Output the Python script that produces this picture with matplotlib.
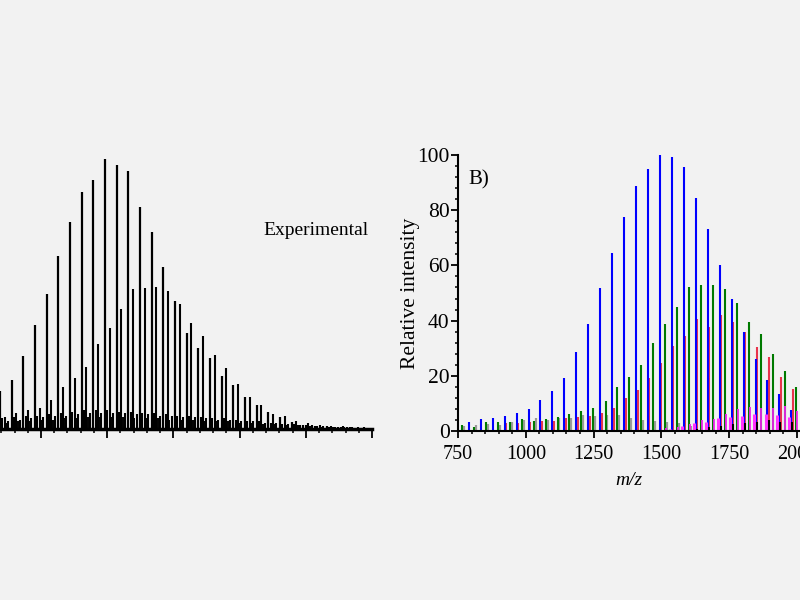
import numpy as np
import matplotlib.pyplot as plt
from matplotlib.ticker import MultipleLocator

plt.rcParams['font.family'] = ['Liberation Serif', 'DejaVu Serif']

# --- Experimental spectrum (left) ---
exp_main_mz = [845, 889, 933, 977, 1021, 1065, 1109, 1153, 1197, 1242, 1286, 1330, 1374, 1418, 1462, 1506,
               1550, 1594, 1638, 1682, 1726, 1770, 1814, 1858, 1903, 1947, 1991, 2035, 2079, 2123, 2167, 2211]
exp_main_h = [14.0, 18.0, 26.8, 37.7, 49.1, 62.7, 75.0, 86.1, 90.5, 98.0, 95.7, 93.5, 80.5, 71.4, 58.8, 46.6,
              34.9, 29.7, 26.0, 19.5, 16.1, 11.9, 8.9, 6.5, 4.7, 2.8, 1.6, 1.2, 1.2, 1.0, 0.8, 0.7]
exp_sec_mz = [863, 907, 951, 995, 1039, 1083, 1127, 1171, 1215, 1259, 1303, 1347, 1391, 1436, 1480, 1524,
              1568, 1612, 1656, 1700, 1744, 1788, 1832, 1876, 1920, 1964, 2008, 2052, 2096, 2140]
exp_sec_h = [4.6, 5.9, 7.1, 7.9, 10.7, 15.5, 18.8, 22.8, 30.9, 36.9, 43.6, 50.8, 51.2, 51.6, 50.0, 45.4,
             38.7, 33.9, 27.0, 22.1, 16.4, 11.9, 8.7, 5.5, 4.8, 3.0, 2.2, 1.8, 1.2, 1.2]
exp_s1_mz = [854, 898, 942, 986, 1030, 1074, 1118, 1162, 1206, 1251, 1295, 1339, 1383, 1427, 1471, 1515,
             1559, 1603, 1647, 1691, 1735, 1779, 1823, 1867, 1912, 1956, 2000, 2044, 2088, 2132, 2176, 2220]
exp_s1_h = [4.0, 4.5, 5.0, 5.0, 5.5, 6.0, 6.5, 7.0, 7.0, 7.0, 6.5, 6.5, 6.0, 6.0, 5.5, 5.0,
            5.0, 4.5, 4.0, 4.0, 3.5, 3.0, 3.0, 2.5, 2.0, 2.0, 1.5, 1.2, 1.0, 1.0, 0.8, 0.8]
exp_s2_mz = [876, 920, 964, 1008, 1052, 1096, 1140, 1184, 1228, 1273, 1317, 1361, 1405, 1449, 1493, 1537,
             1581, 1625, 1669, 1713, 1757, 1801, 1845, 1889, 1934, 1978, 2022, 2066, 2110, 2154, 2198, 2242]
exp_s2_h = [3.0, 3.5, 4.0, 4.5, 5.0, 5.0, 5.5, 6.0, 6.0, 6.0, 6.0, 5.5, 5.5, 5.0, 5.0, 4.5,
            4.5, 4.0, 3.5, 3.5, 3.0, 3.0, 2.5, 2.5, 2.0, 1.8, 1.5, 1.2, 1.0, 0.8, 0.8, 0.6]
exp_s3_mz = [868, 912, 956, 1000, 1044, 1088, 1132, 1176, 1220, 1265, 1309, 1353, 1397, 1441, 1485, 1529,
             1573, 1617, 1661, 1705, 1749, 1793, 1837, 1881, 1926, 1970, 2014, 2058, 2102, 2146, 2190, 2234]
exp_s3_h = [2.5, 3.0, 3.0, 3.5, 3.5, 4.0, 4.0, 4.5, 4.5, 4.5, 4.5, 4.0, 4.0, 4.0, 3.5, 3.5,
            3.5, 3.0, 3.0, 3.0, 2.5, 2.5, 2.0, 2.0, 1.8, 1.5, 1.2, 1.0, 0.8, 0.8, 0.6, 0.5]

# --- Simulated spectrum B) (right) ---
blue_mz = [790, 834, 878, 922, 966, 1010, 1054, 1098, 1142, 1186, 1230, 1275, 1319, 1363, 1407, 1451,
           1495, 1539, 1583, 1627, 1671, 1715, 1759, 1803, 1847, 1891, 1935, 1979]
blue_h = [3.4, 4.2, 4.8, 5.6, 6.5, 8.0, 11.2, 14.5, 19.1, 28.5, 38.7, 51.7, 64.4, 77.7, 88.6, 94.9,
          100, 99.3, 95.6, 84.3, 73.2, 60.1, 47.8, 35.7, 26.1, 18.3, 13.5, 7.7]
red_mz = [927, 971, 1015, 1059, 1103, 1147, 1191, 1235, 1280, 1324, 1368, 1412, 1456, 1500, 1544, 1588,
          1632, 1676, 1720, 1764, 1808, 1852, 1896, 1940, 1984]
red_h = [2.8, 3.0, 3.4, 3.7, 3.6, 4.6, 5.2, 5.5, 6.6, 8.5, 12.1, 14.9, 19.1, 24.5, 30.8, 34.5,
         40.5, 37.8, 42.0, 39.6, 36.0, 30.4, 26.7, 19.4, 15.1]
green_mz = [765, 809, 853, 897, 941, 985, 1029, 1073, 1117, 1161, 1205, 1249, 1294, 1338, 1382, 1426,
            1470, 1514, 1558, 1602, 1646, 1690, 1734, 1778, 1822, 1866, 1910, 1954, 1998]
green_h = [2.1, 1.5, 3.1, 3.1, 3.4, 4.2, 3.7, 4.4, 5.2, 6.2, 7.3, 8.3, 11.0, 16.1, 19.4, 24.0,
           31.8, 38.8, 44.9, 52.0, 53.0, 52.8, 51.4, 46.5, 39.6, 35.0, 27.8, 21.7, 16.1]
gray_mz = [772, 816, 860, 904, 948, 992, 1036, 1080, 1124, 1168, 1212, 1256, 1301, 1345, 1389, 1433,
           1477, 1521, 1565, 1609]
gray_h = [1.9, 2.0, 2.5, 2.0, 3.1, 3.9, 4.6, 4.0, 4.7, 4.8, 5.8, 5.6, 5.7, 5.8, 4.6, 4.0,
          3.7, 3.3, 2.8, 1.8]
mag1_mz = [1532, 1576, 1620, 1664, 1708, 1752, 1796, 1840, 1884, 1928, 1972]
mag1_h = [0.8, 1.8, 2.8, 3.4, 4.7, 5.0, 5.5, 6.2, 6.0, 5.8, 5.2]
mag2_mz = [1517, 1561, 1605, 1649, 1693, 1737, 1781, 1825, 1869, 1913, 1957, 2001]
mag2_h = [1.0, 1.5, 2.4, 3.9, 4.4, 6.2, 7.8, 8.8, 8.5, 8.5, 9.2, 7.3]
black_mz = [1631, 1675, 1719, 1763, 1807, 1851, 1895, 1939, 1983]
black_h = [0.8, 1.3, 1.8, 2.5, 2.8, 3.1, 4.0, 3.4, 3.4]

bg = '#f2f2f2'
fig = plt.figure(figsize=(8, 6), dpi=100, facecolor=bg)

# left panel, extends past the left edge of the figure
ax1 = fig.add_axes([-0.0315, 0.2842, 0.4965, 0.46])
ax1.set_facecolor('none')
ax1.vlines(exp_s3_mz, 0, exp_s3_h, color='black', lw=1.4)
ax1.vlines(exp_s2_mz, 0, exp_s2_h, color='black', lw=1.5)
ax1.vlines(exp_s1_mz, 0, exp_s1_h, color='black', lw=1.5)
ax1.vlines(exp_sec_mz, 0, exp_sec_h, color='black', lw=1.5)
ax1.vlines(exp_main_mz, 0, exp_main_h, color='black', lw=1.6)
ax1.set_xlim(750, 2250)
ax1.set_ylim(0, 100)
for s in ['left', 'top', 'right']:
    ax1.spines[s].set_visible(False)
ax1.spines['bottom'].set_linewidth(2.5)
ax1.xaxis.set_major_locator(MultipleLocator(250))
ax1.xaxis.set_minor_locator(MultipleLocator(50))
ax1.tick_params(axis='x', which='major', direction='out', length=6.5, width=1.3, labelbottom=False)
ax1.tick_params(axis='x', which='minor', direction='out', length=3, width=1.1)
ax1.set_yticks([])
ax1.text(2238, 72, 'Experimental', ha='right', va='center', fontsize=14)

# right panel, extends to the right edge of the figure
ax2 = fig.add_axes([0.5725, 0.2817, 0.4275, 0.46])
ax2.set_facecolor('none')
ax2.vlines(gray_mz, 0, gray_h, color='#9a9a9a', lw=1.6)
ax2.vlines(green_mz, 0, green_h, color='#007a00', lw=1.5)
ax2.vlines(red_mz, 0, red_h, color='#e8344c', lw=1.5)
ax2.vlines(blue_mz, 0, blue_h, color='#0000ff', lw=1.5)
ax2.vlines(mag1_mz, 0, mag1_h, color='#ff33ff', lw=2.2)
ax2.vlines(mag2_mz, 0, mag2_h, color='#ee22ee', lw=1.3)
ax2.vlines(black_mz, 0, black_h, color='black', lw=1.5)
ax2.set_xlim(750, 2011)
ax2.set_ylim(0, 100)
ax2.spines['top'].set_visible(False)
ax2.spines['right'].set_visible(False)
ax2.spines['left'].set_linewidth(1.5)
ax2.spines['bottom'].set_linewidth(1.5)
ax2.xaxis.set_major_locator(MultipleLocator(250))
ax2.xaxis.set_minor_locator(MultipleLocator(50))
ax2.yaxis.set_major_locator(MultipleLocator(20))
ax2.yaxis.set_minor_locator(MultipleLocator(4))
ax2.tick_params(axis='both', which='major', direction='out', length=5, width=1.3, labelsize=14.5)
ax2.tick_params(axis='x', which='major', pad=5)
ax2.tick_params(axis='y', which='major', labelsize=15.5, pad=1)
ax2.tick_params(axis='both', which='minor', direction='out', length=2.5, width=1.1)
ax2.set_xlabel('m/z', fontstyle='italic', fontsize=14, labelpad=6)
ax2.set_ylabel('Relative intensity', fontsize=15.5, labelpad=-2)
ax2.text(790, 91, 'B)', fontsize=15, ha='left', va='center')

fig.savefig('out.png', dpi=100, facecolor=bg)
